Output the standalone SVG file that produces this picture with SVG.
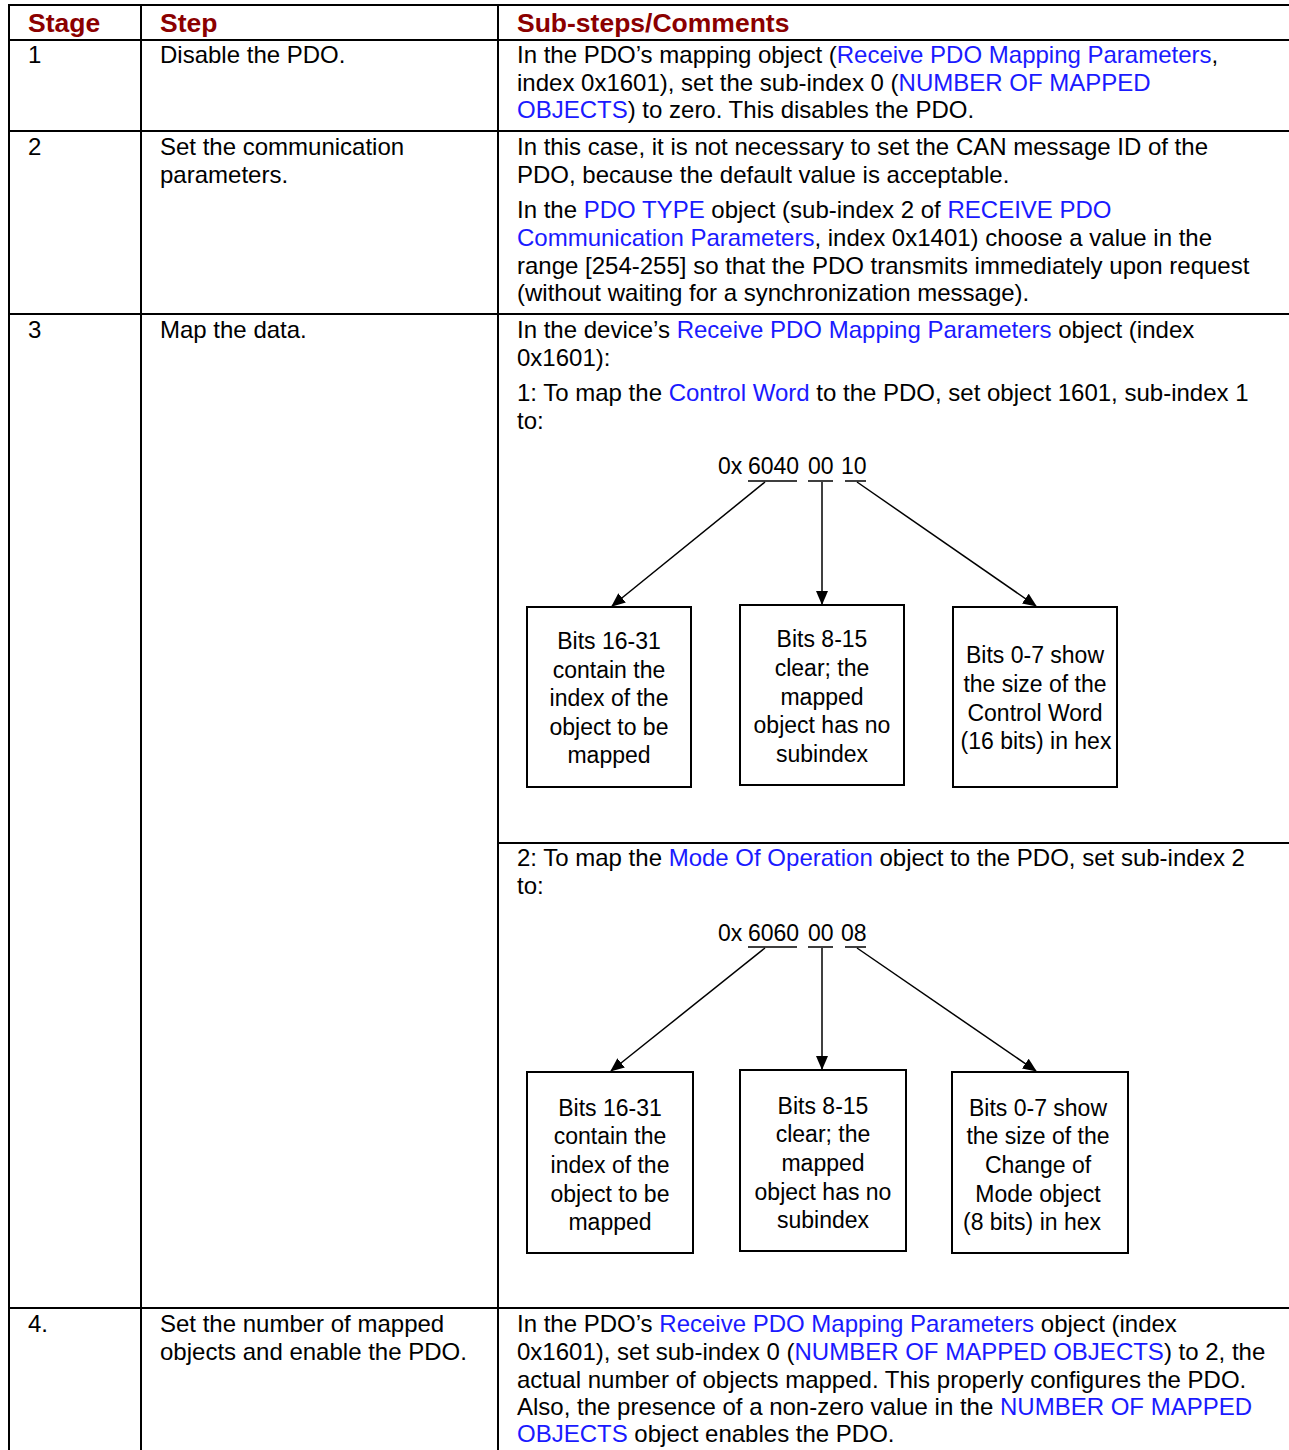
<svg xmlns="http://www.w3.org/2000/svg" width="1289" height="1450" viewBox="0 0 1289 1450">
<defs>
<style>
text{font-family:"Liberation Sans",Arial,sans-serif;font-size:24px;fill:#000}
.h{font-weight:bold;fill:#8b0000;font-size:26.5px}
.b{fill:#1a1aff}
.bx{font-size:23px;text-anchor:middle}
.hx{font-size:23px}
.grid{stroke:#000;stroke-width:2;fill:none}
.box{stroke:#000;stroke-width:2;fill:#fff}
.ul{stroke:#000;stroke-width:1.5}
.arr{stroke:#000;stroke-width:1.5;fill:none;marker-end:url(#ah)}
</style>
<marker id="ah" markerUnits="userSpaceOnUse" markerWidth="14" markerHeight="12" refX="13" refY="6" orient="auto">
<path d="M0,0 L14,6 L0,12 z" fill="#000"/>
</marker>
</defs>
<rect width="1289" height="1450" fill="#fff"/>
<g id="table">
<path class="grid" d="M9,5 H1289 M9,40 H1289 M9,131 H1289 M9,314 H1289 M9,1308 H1289 M498,843 H1289 M9,4 V1450 M141,4 V1450 M498,4 V1450"/>
</g>
<g id="header">
<text class="h" x="28" y="32">Stage</text>
<text class="h" x="160" y="32">Step</text>
<text class="h" x="517" y="32">Sub-steps/Comments</text>
</g>
<g id="row1">
<text x="28" y="63">1</text>
<text x="160" y="63">Disable the PDO.</text>
<text x="517" y="63">In the PDO’s mapping object (<tspan class="b">Receive PDO Mapping Parameters</tspan>,</text>
<text x="517" y="90.5">index 0x1601), set the sub-index 0 (<tspan class="b">NUMBER OF MAPPED</tspan></text>
<text x="517" y="118"><tspan class="b">OBJECTS</tspan>) to zero. This disables the PDO.</text>
</g>
<g id="row2">
<text x="28" y="155">2</text>
<text x="160" y="155">Set the communication</text>
<text x="160" y="183">parameters.</text>
<text x="517" y="155">In this case, it is not necessary to set the CAN message ID of the</text>
<text x="517" y="183">PDO, because the default value is acceptable.</text>
<text x="517" y="218">In the <tspan class="b">PDO TYPE</tspan> object (sub-index 2 of <tspan class="b">RECEIVE PDO</tspan></text>
<text x="517" y="246"><tspan class="b">Communication Parameters</tspan>, index 0x1401) choose a value in the</text>
<text x="517" y="274">range [254-255] so that the PDO transmits immediately upon request</text>
<text x="517" y="301">(without waiting for a synchronization message).</text>
</g>
<g id="row3">
<text x="28" y="338">3</text>
<text x="160" y="338">Map the data.</text>
<text x="517" y="338">In the device’s <tspan class="b">Receive PDO Mapping Parameters</tspan> object (index</text>
<text x="517" y="366">0x1601):</text>
<text x="517" y="401">1: To map the <tspan class="b">Control Word</tspan> to the PDO, set object 1601, sub-index 1</text>
<text x="517" y="429">to:</text>
<text class="hx" x="718" y="474">0x</text>
<text class="hx" x="748" y="474">6040</text>
<text class="hx" x="808" y="474">00</text>
<text class="hx" x="841" y="474">10</text>
<text x="517" y="866">2: To map the <tspan class="b">Mode Of Operation</tspan> object to the PDO, set sub-index 2</text>
<text x="517" y="894">to:</text>
<text class="hx" x="718" y="941">0x</text>
<text class="hx" x="748" y="941">6060</text>
<text class="hx" x="808" y="941">00</text>
<text class="hx" x="841" y="941">08</text>
</g>
<g id="connectors">
<path class="ul" d="M748,481 H797 M808,481 H833 M845,481 H866 M748,947 H797 M808,947 H833 M845,947 H866"/>
<path class="arr" d="M765,482 L612,606"/>
<path class="arr" d="M822,482 V604"/>
<path class="arr" d="M857,482 L1036,606"/>
<path class="arr" d="M765,948 L611,1071"/>
<path class="arr" d="M822,948 V1069"/>
<path class="arr" d="M857,948 L1036,1071"/>
</g>
<g id="box1a">
<rect class="box" x="527" y="607" width="164" height="180"/>
<text class="bx" x="609" y="649">Bits 16-31</text>
<text class="bx" x="609" y="678">contain the</text>
<text class="bx" x="609" y="706">index of the</text>
<text class="bx" x="609" y="735">object to be</text>
<text class="bx" x="609" y="763">mapped</text>
</g>
<g id="box2a">
<rect class="box" x="740" y="605" width="164" height="180"/>
<text class="bx" x="822" y="647">Bits 8-15</text>
<text class="bx" x="822" y="676">clear; the</text>
<text class="bx" x="822" y="705">mapped</text>
<text class="bx" x="822" y="733">object has no</text>
<text class="bx" x="822" y="762">subindex</text>
</g>
<g id="box3a">
<rect class="box" x="953" y="607" width="164" height="180"/>
<text class="bx" x="1035" y="663">Bits 0-7 show</text>
<text class="bx" x="1035" y="692">the size of the</text>
<text class="bx" x="1035" y="721">Control Word</text>
<text class="bx" x="1036" y="749">(16 bits) in hex</text>
</g>
<g id="box1b">
<rect class="box" x="527" y="1072" width="166" height="181"/>
<text class="bx" x="610" y="1116">Bits 16-31</text>
<text class="bx" x="610" y="1144">contain the</text>
<text class="bx" x="610" y="1173">index of the</text>
<text class="bx" x="610" y="1202">object to be</text>
<text class="bx" x="610" y="1230">mapped</text>
</g>
<g id="box2b">
<rect class="box" x="740" y="1070" width="166" height="181"/>
<text class="bx" x="823" y="1114">Bits 8-15</text>
<text class="bx" x="823" y="1142">clear; the</text>
<text class="bx" x="823" y="1171">mapped</text>
<text class="bx" x="823" y="1200">object has no</text>
<text class="bx" x="823" y="1228">subindex</text>
</g>
<g id="box3b">
<rect class="box" x="952" y="1072" width="176" height="181"/>
<text class="bx" x="1038" y="1116">Bits 0-7 show</text>
<text class="bx" x="1038" y="1144">the size of the</text>
<text class="bx" x="1038" y="1173">Change of</text>
<text class="bx" x="1038" y="1202">Mode object</text>
<text class="bx" x="1032" y="1230">(8 bits) in hex</text>
</g>
<g id="row4">
<text x="28" y="1332">4.</text>
<text x="160" y="1332">Set the number of mapped</text>
<text x="160" y="1360">objects and enable the PDO.</text>
<text x="517" y="1332">In the PDO’s <tspan class="b">Receive PDO Mapping Parameters</tspan> object (index</text>
<text x="517" y="1360">0x1601), set sub-index 0 (<tspan class="b">NUMBER OF MAPPED OBJECTS</tspan>) to 2, the</text>
<text x="517" y="1388">actual number of objects mapped. This properly configures the PDO.</text>
<text x="517" y="1415">Also, the presence of a non-zero value in the <tspan class="b">NUMBER OF MAPPED</tspan></text>
<text x="517" y="1442"><tspan class="b">OBJECTS</tspan> object enables the PDO.</text>
</g>
</svg>
